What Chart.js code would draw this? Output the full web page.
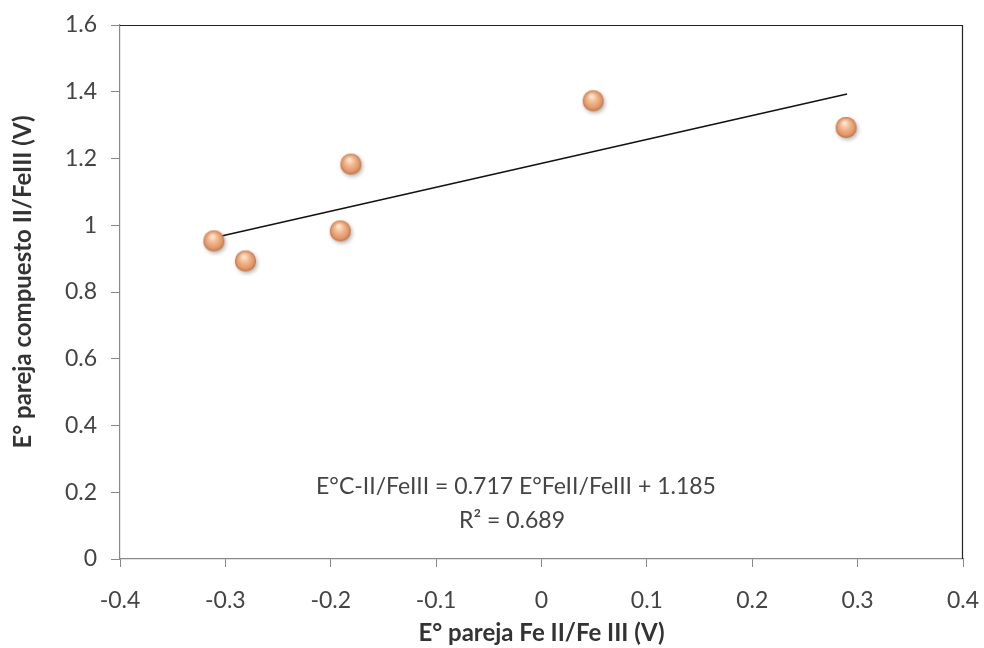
<!DOCTYPE html>
<html>
<head>
<meta charset="utf-8">
<script src="https://cdn.jsdelivr.net/npm/chart.js@4"></script>
<style>
  html, body { margin: 0; padding: 0; background: #fff; }
  #wrap { width: 984px; height: 648px; }
</style>
</head>
<body>
<div id="wrap"><canvas id="scatter-chart" width="984" height="648"></canvas></div>
<script>
// values
const feValues = [-0.31, -0.28, -0.19, -0.18, 0.05, 0.29];
const compValues = [0.95, 0.89, 0.98, 1.18, 1.37, 1.29];
// trend line ends
const trendX = [-0.31, 0.29];
const trendY = [0.963, 1.393];
const equationText = 'E°C-II/FeIII = 0.717 E°FeII/FeIII + 1.185';
const r2Text = 'R² = 0.689';
const yTitle = 'E° pareja compuesto II/FeIII (V)';

const FONT = 'Lato, "Open Sans", sans-serif';

// little orange ball for the markers
function makeBall(r) {
    const c = document.createElement('canvas');
    const size = r * 2 + 8;
    c.width = size; c.height = size;
    const g = c.getContext('2d');
    const cx = r + 3, cy = r + 3;
    g.save();
    g.shadowColor = 'rgba(0,0,0,0.3)';
    g.shadowBlur = 4;
    g.shadowOffsetX = 1.5;
    g.shadowOffsetY = 2;
    g.beginPath();
    g.arc(cx, cy, r, 0, Math.PI * 2);
    g.fillStyle = '#e09462';
    g.fill();
    g.restore();
    const grad = g.createRadialGradient(cx - r * 0.15, cy - r * 0.45, r * 0.1, cx, cy, r);
    grad.addColorStop(0, '#fde6d2');
    grad.addColorStop(0.35, '#f4bc94');
    grad.addColorStop(0.8, '#e0966a');
    grad.addColorStop(1, '#c07444');
    g.beginPath();
    g.arc(cx, cy, r, 0, Math.PI * 2);
    g.fillStyle = grad;
    g.fill();
    return c;
}
const ball = makeBall(10.5);

const fmt = v => String(Number(v.toFixed(1)));

// keep the plot box where the reference has it
function noPad(s) {
    s.paddingLeft = 0; s.paddingRight = 0;
    s.paddingTop = 0; s.paddingBottom = 0;
}

const extras = {
    id: 'extras',
    afterDraw(chart) {
        const { ctx, chartArea: a } = chart;
        ctx.save();
        // top and right frame lines are darker
        ctx.strokeStyle = '#222';
        ctx.lineWidth = 1.2;
        ctx.beginPath();
        ctx.moveTo(a.left, a.top + 0.5);
        ctx.lineTo(a.right - 0.5, a.top + 0.5);
        ctx.lineTo(a.right - 0.5, a.bottom);
        ctx.stroke();
        // equation label
        ctx.fillStyle = '#444';
        ctx.font = '23px ' + FONT;
        ctx.textAlign = 'center';
        ctx.textBaseline = 'middle';
        ctx.fillText(equationText, 516, 487);
        ctx.fillText(r2Text, 512, 521);
        // y title
        ctx.translate(23, 282);
        ctx.rotate(-Math.PI / 2);
        ctx.fillStyle = '#333';
        ctx.font = 'bold 24px ' + FONT;
        ctx.fillText(yTitle, 0, 0);
        ctx.restore();
    }
};

const chartId = document.getElementById('scatter-chart').getContext('2d');

const myChart = new Chart(chartId, {
    type: 'scatter',
    data: {
        datasets: [
        {
            label: 'Datos',
            data: feValues.map((x, i) => ({ x: x, y: compValues[i] })),
            pointStyle: ball,
            pointRadius: 10,
            order: 1,
        },
        {
            type: 'line',
            label: 'Tendencia',
            data: trendX.map((x, i) => ({ x: x, y: trendY[i] })),
            borderColor: '#111',
            borderWidth: 1.5,
            pointRadius: 0,
            fill: false,
            order: 2,
        }
        ]
    },
    options: {
        responsive: false,
        animation: false,
        layout: { padding: { left: 0, top: 25, right: 21, bottom: 0 } },
        plugins: {
            legend: { display: false },
            tooltip: { enabled: false },
        },
        scales: {
            x: {
                type: 'linear',
                min: -0.4,
                max: 0.4,
                afterFit: s => { s.height = 89; noPad(s); },
                grid: { drawOnChartArea: false, drawTicks: true, tickLength: 8, color: '#888' },
                border: { color: '#888', width: 1.2 },
                ticks: {
                    stepSize: 0.1,
                    padding: 20,
                    color: '#444',
                    font: { family: FONT, size: 23 },
                    callback: v => fmt(v),
                },
                title: {
                    display: true,
                    text: 'E° pareja Fe II/Fe III (V)',
                    color: '#333',
                    font: { family: FONT, size: 24, weight: 'bold' },
                    padding: { top: 0, bottom: 0 },
                },
            },
            y: {
                min: 0,
                max: 1.6,
                afterFit: s => { s.width = 120; noPad(s); },
                grid: { drawOnChartArea: false, drawTicks: true, tickLength: 9, color: '#888' },
                border: { color: '#888', width: 1.2 },
                ticks: {
                    stepSize: 0.2,
                    padding: 14,
                    color: '#444',
                    font: { family: FONT, size: 23 },
                    callback: v => fmt(v),
                },
                title: { display: false },
            }
        }
    },
    plugins: [extras],
});
</script>
</body>
</html>
